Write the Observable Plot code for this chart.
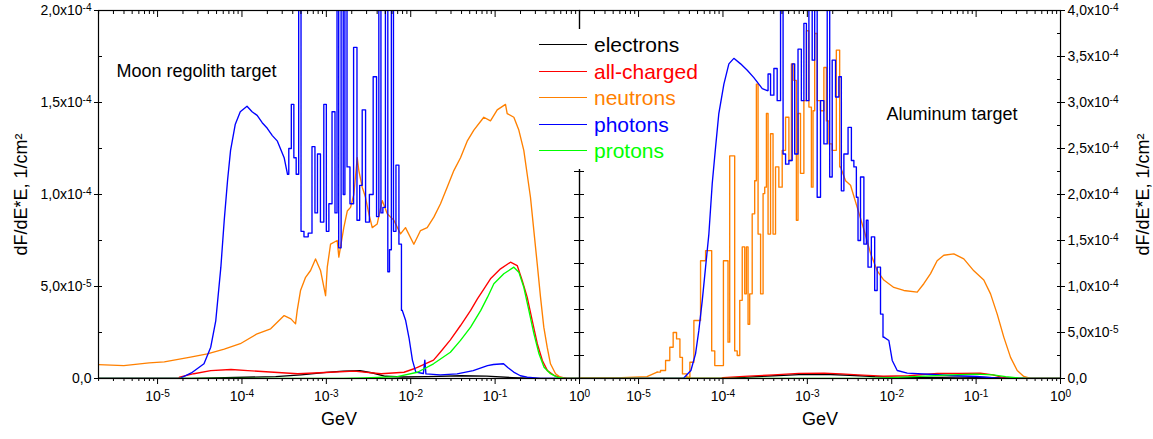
<!DOCTYPE html>
<html><head><meta charset="utf-8">
<script src="https://cdn.jsdelivr.net/npm/d3@7"></script>
<script src="https://cdn.jsdelivr.net/npm/@observablehq/plot@0.6"></script>
<style>
body{margin:0;background:#fff;font-family:"Liberation Sans",Arial,sans-serif;}
#wrap{position:relative;width:1153px;height:439px;overflow:hidden;background:#fff;}
#wrap svg{position:absolute;top:0;}
#legend{position:absolute;left:532px;top:29px;width:170px;height:140px;background:#fff;}
#legend .sw{position:absolute;left:7px;width:48px;height:0;border-top:1.5px solid;}
#legend .lb{position:absolute;left:62px;font-size:21px;line-height:21px;white-space:nowrap;}
</style></head><body><div id="wrap"><div id="legend"></div></div>
<script>
// ---- series (x = log10 of energy in GeV, y in units of 1e-5 1/cm^2) ----
const seriesNames = ["electrons", "all-charged", "neutrons", "photons", "protons"];
const seriesColors = ["#000000", "#ff0000", "#ff8000", "#0000ff", "#00ff00"];

// Moon regolith target (left panel)
const moonElectrons = [[-5.70,0],[-4.6,0],[-4.2,0.05],[-3.6,0.1],[-3.3,0.2],[-3.0,0.33],[-2.8,0.40],[-2.6,0.42],[-2.45,0.3],[-2.3,0.12],[-2.1,0.08],[-1.8,0.1],[-1.4,0.15],[-1.1,0.13],[-0.8,0.05],[-0.5,0],[0,0]];
const moonCharged = [[-5.70,0],[-4.75,0],[-4.74,0.07],[-4.57,0.26],[-4.37,0.43],[-4.13,0.49],[-3.93,0.43],[-3.62,0.34],[-3.34,0.26],[-2.95,0.34],[-2.67,0.40],[-2.35,0.26],[-2.08,0.34],[-1.96,0.53],[-1.92,0.61],[-1.73,1.0],[-1.65,1.43],[-1.53,2.1],[-1.41,2.88],[-1.29,3.70],[-1.21,4.33],[-1.13,4.88],[-1.055,5.42],[-0.936,5.96],[-0.818,6.32],[-0.738,6.14],[-0.679,5.33],[-0.62,4.42],[-0.56,3.15],[-0.50,1.89],[-0.44,0.98],[-0.38,0.43],[-0.30,0.16],[-0.225,0.07],[-0.15,0],[0,0]];
const moonNeutrons = [[-5.70,0.75],[-5.40,0.7],[-5.10,0.85],[-4.92,0.9],[-4.61,1.16],[-4.41,1.34],[-4.21,1.6],[-4.02,1.89],[-3.82,2.43],[-3.66,2.7],[-3.50,3.42],[-3.42,3.24],[-3.365,2.97],[-3.345,3.7],[-3.306,4.78],[-3.246,5.5],[-3.187,5.87],[-3.128,6.5],[-3.069,5.87],[-3.009,4.5],[-2.989,6.05],[-2.95,7.3],[-2.871,7.5],[-2.852,6.6],[-2.793,8.2],[-2.752,9.1],[-2.713,9.3],[-2.674,10.0],[-2.634,12.0],[-2.615,11.3],[-2.575,10.4],[-2.536,9.85],[-2.496,8.95],[-2.456,8.2],[-2.397,8.4],[-2.338,9.67],[-2.278,8.95],[-2.20,8.6],[-2.121,7.86],[-2.062,8.2],[-1.963,7.3],[-1.884,8.04],[-1.805,8.2],[-1.726,8.77],[-1.647,9.5],[-1.568,10.4],[-1.489,11.3],[-1.41,12.0],[-1.331,12.9],[-1.252,13.5],[-1.134,14.2],[-1.055,14.0],[-0.975,14.6],[-0.877,14.9],[-0.857,14.4],[-0.778,14.2],[-0.719,13.5],[-0.66,12.4],[-0.62,11.1],[-0.581,9.85],[-0.541,8.04],[-0.501,6.23],[-0.462,4.42],[-0.423,2.79],[-0.383,1.7],[-0.344,0.8],[-0.284,0.26],[-0.225,0.07],[-0.166,0],[0,0]];
const moonPhotons = [[-5.70,0],[-4.74,0],[-4.60,0.3],[-4.45,0.8],[-4.37,1.7],[-4.31,3.15],[-4.25,6.05],[-4.21,8.6],[-4.17,10.8],[-4.135,12.4],[-4.08,13.8],[-4.02,14.5],[-3.94,14.8],[-3.88,14.5],[-3.82,14.3],[-3.76,13.9],[-3.70,13.6],[-3.64,13.2],[-3.58,12.9],[-3.50,12.0],[-3.46,11.1],[-3.43,12.5],[-3.40,14.9],[-3.37,12.0],[-3.345,11.1],[-3.31,25],[-3.29,8.0],[-3.24,7.7],[-3.19,7.9],[-3.15,12.6],[-3.12,9.0],[-3.09,12.2],[-3.05,8.5],[-3.01,14.9],[-2.99,8.0],[-2.95,9.5],[-2.915,14.5],[-2.88,9.0],[-2.867,25],[-2.84,7.1],[-2.81,25],[-2.79,10],[-2.77,25],[-2.74,11.5],[-2.70,9.5],[-2.654,18.0],[-2.62,8.6],[-2.59,10.5],[-2.56,14.6],[-2.51,8.5],[-2.47,10],[-2.42,16.4],[-2.39,8.8],[-2.366,25],[-2.34,9.0],[-2.32,9.3],[-2.28,25],[-2.263,5.8],[-2.24,7],[-2.219,25],[-2.19,8.0],[-2.16,11.6],[-2.12,7.3],[-2.10,3.7],[-2.06,3.15],[-2.02,2.2],[-1.98,1.0],[-1.94,0.35],[-1.85,0.27],[-1.833,1.0],[-1.82,0.25],[-1.65,0.2],[-1.45,0.25],[-1.26,0.43],[-1.09,0.7],[-1.02,0.76],[-0.90,0.8],[-0.85,0.6],[-0.78,0.35],[-0.70,0.15],[-0.62,0.07],[-0.46,0],[0,0]];
const moonProtons = [[-5.70,0],[-2.80,0],[-2.55,0.03],[-2.16,0.1],[-1.92,0.34],[-1.73,0.8],[-1.53,1.43],[-1.41,2.07],[-1.29,2.79],[-1.17,3.70],[-1.09,4.42],[-1.015,5.15],[-0.897,5.69],[-0.778,6.05],[-0.719,5.78],[-0.66,4.96],[-0.60,3.70],[-0.54,2.43],[-0.48,1.34],[-0.42,0.61],[-0.344,0.26],[-0.264,0.07],[-0.18,0],[0,0]];

// Aluminum target (right panel)
const alElectrons = [[-5.70,0],[-4.0,0],[-3.7,0.15],[-3.4,0.3],[-3.1,0.42],[-2.8,0.45],[-2.5,0.35],[-2.2,0.2],[-1.9,0.12],[-1.5,0.12],[-1.2,0.15],[-0.9,0.12],[-0.7,0.05],[-0.5,0],[0,0]];
const alCharged = [[-5.70,0],[-4.02,0],[-4.0,0.1],[-3.7,0.25],[-3.4,0.4],[-3.1,0.55],[-2.8,0.58],[-2.6,0.5],[-2.4,0.4],[-2.1,0.25],[-1.8,0.3],[-1.46,0.55],[-1.2,0.55],[-0.95,0.58],[-0.8,0.4],[-0.68,0.1],[-0.6,0],[0,0]];
const alNeutrons = [[-5.70,0.05],[-5.2,0.1],[-4.9,0.2],[-4.78,0.7],[-4.70,0.87],[-4.66,1.96],[-4.60,3.4],[-4.58,5.0],[-4.52,4.3],[-4.50,2.3],[-4.46,0.5],[-4.40,0.14],[-4.384,1.77],[-4.305,6.3],[-4.226,12.8],[-4.186,13.9],[-4.14,13.9],[-4.127,3.0],[-4.067,1.4],[-4.00,1.4],[-3.989,12.8],[-3.95,12.8],[-3.93,3.95],[-3.91,24.2],[-3.871,24.2],[-3.851,3.0],[-3.811,2.5],[-3.791,8.5],[-3.752,14.3],[-3.732,9.2],[-3.712,14.3],[-3.693,5.9],[-3.673,9.2],[-3.634,17.9],[-3.614,21.5],[-3.594,32.0],[-3.574,15.7],[-3.534,9.2],[-3.515,20.1],[-3.495,20.8],[-3.475,28.8],[-3.456,15.7],[-3.416,26.6],[-3.397,15.7],[-3.357,23.0],[-3.318,20.8],[-3.278,24.8],[-3.238,28.4],[-3.199,23.7],[-3.179,34.2],[-3.14,32.4],[-3.12,17.2],[-3.101,28.8],[-3.061,22.3],[-3.021,30.2],[-3.001,37.8],[-2.962,29.5],[-2.942,20.8],[-2.923,29.1],[-2.903,37.5],[-2.864,30.2],[-2.824,29.1],[-2.784,33.8],[-2.764,28.0],[-2.725,25.5],[-2.686,24.8],[-2.627,35.7],[-2.607,23.0],[-2.547,21.5],[-2.488,21.0],[-2.409,18.6],[-2.33,16.2],[-2.251,13.6],[-2.172,11.7],[-2.094,10.7],[-1.975,9.9],[-1.857,9.57],[-1.698,9.38],[-1.62,10.3],[-1.54,11.4],[-1.462,12.8],[-1.383,13.4],[-1.264,13.55],[-1.146,13.0],[-1.027,11.7],[-0.909,10.7],[-0.829,9.2],[-0.75,7.0],[-0.672,4.5],[-0.592,2.3],[-0.513,0.87],[-0.435,0.22],[-0.355,0],[0,0]];
const alPhotons = [[-5.70,0],[-4.47,0],[-4.38,0.87],[-4.325,2.68],[-4.286,5.2],[-4.245,8.5],[-4.206,12.1],[-4.167,15.7],[-4.127,21.2],[-4.088,25.1],[-4.049,28.8],[-3.989,32.0],[-3.93,34.2],[-3.871,34.8],[-3.791,34.2],[-3.712,33.5],[-3.634,32.7],[-3.534,31.5],[-3.475,31.3],[-3.456,33.1],[-3.416,30.8],[-3.377,33.7],[-3.338,30.2],[-3.297,45],[-3.278,24.4],[-3.238,23.3],[-3.199,23.7],[-3.16,34.2],[-3.14,24.4],[-3.081,35.8],[-3.061,30.2],[-3.021,38.6],[-3.001,30.2],[-2.962,45],[-2.923,34.6],[-2.903,45],[-2.864,19.7],[-2.824,30.2],[-2.784,25.5],[-2.745,45],[-2.725,21.9],[-2.686,34.6],[-2.646,30.6],[-2.607,32.8],[-2.587,20.4],[-2.547,24.4],[-2.488,27.3],[-2.468,23.7],[-2.429,23.0],[-2.409,19.7],[-2.39,15.0],[-2.35,21.9],[-2.31,14.6],[-2.291,17.2],[-2.271,12.1],[-2.212,15.4],[-2.192,9.57],[-2.153,12.1],[-2.113,7.0],[-2.094,4.5],[-2.034,4.13],[-1.994,1.96],[-1.935,0.87],[-1.816,0.58],[-1.50,0.43],[-1.30,0.33],[-0.99,0.22],[-0.71,0],[0,0]];
const alProtons = [[-5.70,0],[-2.3,0],[-2.0,0.1],[-1.6,0.25],[-1.3,0.4],[-1.0,0.47],[-0.8,0.4],[-0.65,0.2],[-0.5,0.05],[-0.4,0],[0,0]];

// ---- axes ----
const xDomainLg = [-5.7, 0];
const xMajor = [1e-5, 1e-4, 1e-3, 1e-2, 1e-1, 1];
const leftYTicks = [0, 5, 10, 15, 20];
const leftYLabels = ["0,0", "5,0x10^-5", "1,0x10^-4", "1,5x10^-4", "2,0x10^-4"];
const rightYTicks = [0, 5, 10, 15, 20, 25, 30, 35, 40];
const rightYLabels = ["0,0", "5,0x10^-5", "1,0x10^-4", "1,5x10^-4", "2,0x10^-4", "2,5x10^-4", "3,0x10^-4", "3,5x10^-4", "4,0x10^-4"];
const yTitle = "dF/dE*E, 1/cm²";
const xTitle = "GeV";
const panelTitles = ["Moon regolith target", "Aluminum target"];

// ---- build ----
const FONT = '"Liberation Sans", Arial, sans-serif';
const xDomain = xDomainLg.map(v => 10 ** v);
const xMinor = [];
for (let e = -6; e < 0; e++) for (let m = 2; m <= 9; m++) { const v = m * 10 ** e; if (v >= xDomain[0] && v <= 1) xMinor.push(v); }
const fmtX = d => `10^${Math.round(Math.log10(d))}`;
const toRows = pts => pts.map(([lg, v]) => ({E: 10 ** lg, v}));

// histogram-like (stepped) stretch of each series, as log10 energy range; the rest is drawn linear
function lineMarks(list, stepRanges) {
  const marks = [];
  list.forEach((pts, i) => {
    const r = stepRanges[i];
    const opts = {x: "E", y: "v", stroke: seriesColors[i], strokeWidth: 1.35, clip: true};
    if (!r) { marks.push(Plot.line(toRows(pts), {...opts, curve: "linear"})); return; }
    const i0 = pts.findIndex(p => p[0] >= r[0]);
    let i1 = pts.length - 1; while (i1 > 0 && pts[i1][0] > r[1]) i1--;
    marks.push(Plot.line(toRows(pts.slice(0, i0 + 1)), {...opts, curve: "linear"}));
    marks.push(Plot.line(toRows(pts.slice(i0, i1 + 1)), {...opts, curve: "step"}));
    marks.push(Plot.line(toRows(pts.slice(i1)), {...opts, curve: "linear"}));
  });
  return marks;
}
const blank = () => "";
function xAxes() {
  return [
    Plot.axisX({anchor: "bottom", ticks: xMajor, tickSize: 6, tickPadding: 7, tickFormat: fmtX, fontSize: 14, label: null}),
    Plot.axisX({anchor: "bottom", ticks: xMinor, tickSize: 3, tickFormat: blank, label: null}),
    Plot.axisX({anchor: "top", ticks: xMajor, tickSize: -6, tickFormat: blank, label: null}),
    Plot.axisX({anchor: "top", ticks: xMinor, tickSize: -3, tickFormat: blank, label: null})
  ];
}

const H = 439, MT = 10, MB = 61;
const left = Plot.plot({
  width: 579, height: H, marginLeft: 98, marginRight: 0, marginTop: MT, marginBottom: MB,
  style: {fontFamily: FONT, background: "none", overflow: "visible", color: "#000"},
  x: {type: "log", domain: xDomain},
  y: {domain: [0, 20]},
  marks: [
    ...lineMarks([moonElectrons, moonCharged, moonNeutrons, moonPhotons, moonProtons], [null, null, null, [-3.46, -2.10], null]),
    ...xAxes(),
    Plot.axisY({anchor: "left", ticks: leftYTicks, tickSize: 4, tickPadding: 3, tickFormat: d => leftYLabels[leftYTicks.indexOf(d)], fontSize: 14, label: null}),
    Plot.axisY({anchor: "left", ticks: d3.range(0, 20.1, 2.5), tickSize: -4, tickFormat: blank, label: null}),
    Plot.frame({stroke: "#000", strokeWidth: 1.2}),
    Plot.text([yTitle], {frameAnchor: "left", textAnchor: "middle", dx: -77, rotate: -90, fontSize: 18, text: d => d}),
    Plot.text([xTitle], {frameAnchor: "bottom", dy: 46, fontSize: 18, text: d => d}),
    Plot.text([panelTitles[0]], {frameAnchor: "top-left", textAnchor: "start", dx: 18, dy: 54, fontSize: 18, text: d => d})
  ]
});

const RX = 554;
const right = Plot.plot({
  width: 1153 - RX, height: H, marginLeft: 579 - RX, marginRight: 1153 - 1060, marginTop: MT, marginBottom: MB,
  style: {fontFamily: FONT, background: "none", overflow: "visible", color: "#000"},
  x: {type: "log", domain: xDomain},
  y: {domain: [0, 40]},
  marks: [
    ...lineMarks([alElectrons, alCharged, alNeutrons, alPhotons, alProtons], [null, null, [-4.80, -2.55], [-3.48, -2.09], null]),
    ...xAxes(),
    Plot.axisY({anchor: "right", ticks: rightYTicks, tickSize: 4, tickPadding: 3, tickFormat: d => rightYLabels[rightYTicks.indexOf(d)], fontSize: 14, label: null}),
    Plot.axisY({anchor: "right", ticks: d3.range(0, 40.1, 2.5), tickSize: -4, tickFormat: blank, label: null}),
    Plot.axisY({anchor: "left", ticks: d3.range(0, 40.1, 2.5), tickSize: 5, tickFormat: blank, label: null}),
    Plot.axisY({anchor: "left", ticks: d3.range(0, 40.1, 2.5), tickSize: -5, tickFormat: blank, label: null}),
    Plot.frame({stroke: "#000", strokeWidth: 1.2}),
    Plot.text([yTitle], {frameAnchor: "right", textAnchor: "middle", dx: 83, rotate: -90, fontSize: 18, text: d => d}),
    Plot.text([xTitle], {frameAnchor: "bottom", dy: 46, fontSize: 18, text: d => d}),
    Plot.text([panelTitles[1]], {frameAnchor: "top-left", textAnchor: "start", dx: 307, dy: 97, fontSize: 18, text: d => d})
  ]
});

const NS = "http://www.w3.org/2000/svg";
function supify(svg) {
  svg.querySelectorAll("text").forEach(t => {
    const s = t.textContent, i = s.indexOf("^");
    if (i < 0) return;
    t.textContent = "";
    const a = document.createElementNS(NS, "tspan"); a.textContent = s.slice(0, i);
    const b = document.createElementNS(NS, "tspan"); b.textContent = s.slice(i + 1);
    b.setAttribute("dy", "-0.42em"); b.setAttribute("font-size", "0.72em");
    t.append(a, b);
  });
}
const wrap = document.getElementById("wrap");
const legend = document.getElementById("legend");
supify(left); supify(right);
left.style.left = "0px"; right.style.left = RX + "px";
wrap.insertBefore(left, legend);
wrap.insertBefore(right, legend);

seriesNames.forEach((name, i) => {
  const cy = 16 + i * 26.5;
  const sw = document.createElement("div"); sw.className = "sw";
  sw.style.top = (cy - 0.75) + "px"; sw.style.borderTopColor = seriesColors[i];
  const lb = document.createElement("div"); lb.className = "lb";
  lb.style.top = (cy - 11) + "px"; lb.style.color = seriesColors[i]; lb.textContent = name;
  legend.append(sw, lb);
});
</script></body></html>
